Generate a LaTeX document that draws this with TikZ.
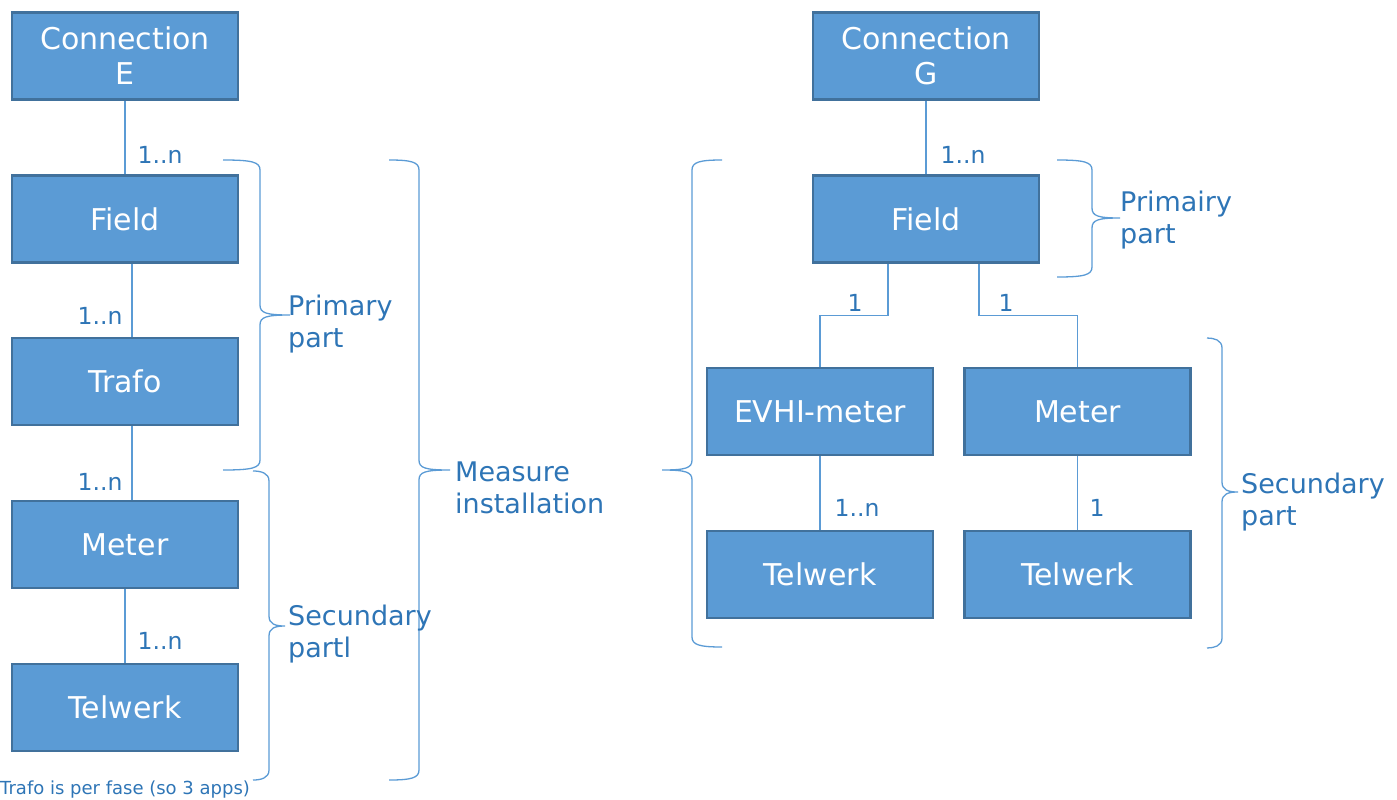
\documentclass[tikz,border=0pt]{standalone}
\usepackage{fontspec}
\setmainfont{DejaVu Sans}
\definecolor{boxfill}{HTML}{5B9BD5}
\definecolor{boxline}{HTML}{41719C}
\definecolor{lbl}{HTML}{2E75B6}
\newcommand\BraceR[6]{%
  \draw[brc] (#1,#4) .. controls ({#2-8},#4) and (#2,{#4+2}) .. (#2,{#4+10})
    -- (#2,{#5-10}) .. controls (#2,{#5-2}) and ({#2+6},#5) .. (#3,#5)
    .. controls ({#2+6},#5) and (#2,{#5+2}) .. (#2,{#5+10})
    -- (#2,{#6-10}) .. controls (#2,{#6-2}) and ({#2-8},#6) .. (#1,#6);}
\newcommand\BraceL[6]{%
  \draw[brc] (#1,#4) .. controls ({#2+8},#4) and (#2,{#4+2}) .. (#2,{#4+10})
    -- (#2,{#5-10}) .. controls (#2,{#5-2}) and ({#2-6},#5) .. (#3,#5)
    .. controls ({#2-6},#5) and (#2,{#5+2}) .. (#2,{#5+10})
    -- (#2,{#6-10}) .. controls (#2,{#6-2}) and ({#2+8},#6) .. (#1,#6);}
\begin{document}
\begin{tikzpicture}[x=1pt,y=-1pt,
  ent/.style={draw=boxline,fill=boxfill,line width=2.5pt,minimum width=226pt,minimum height=87pt,
    inner sep=0pt,text=white,align=center,font=\fontsize{30}{35}\selectfont},
  conn/.style={draw=boxfill,line width=1.3pt},
  brc/.style={draw=boxfill,line width=1.3pt},
  mult/.style={text=lbl,inner sep=0pt,font=\fontsize{23.5}{26}\selectfont},
  part/.style={text=lbl,inner sep=0pt,align=left,anchor=west,font=\fontsize{27}{32.5}\selectfont}]
\useasboundingbox (0,0) rectangle (1397,800);
% left column
\node[ent] (connE) at (125,56) {Connection\\E};
\node[ent] (fieldE) at (125,219) {Field};
\node[ent] (trafo) at (125,381.5) {Trafo};
\node[ent] (meterE) at (125,544.5) {Meter};
\node[ent] (telE) at (125,707.5) {Telwerk};
\draw[conn] (connE.south) -- (fieldE.north);
\draw[conn] ([xshift=7pt]fieldE.south) -- ([xshift=7pt]trafo.north);
\draw[conn] ([xshift=7pt]trafo.south) -- ([xshift=7pt]meterE.north);
\draw[conn] (meterE.south) -- (telE.north);
\node[mult] (m1) at (160,155) {1..n};
\node[mult] (m2) at (100,316) {1..n};
\node[mult] (m3) at (100,482) {1..n};
\node[mult] (m4) at (160,641) {1..n};
% right column
\node[ent] (connG) at (926,56) {Connection\\G};
\node[ent] (fieldG) at (926,219) {Field};
\node[ent] (evhi) at (820,411.5) {EVHI-meter};
\node[ent] (meterG) at (1077.5,411.5) {Meter};
\node[ent] (telG1) at (820,574.5) {Telwerk};
\node[ent] (telG2) at (1077.5,574.5) {Telwerk};
\draw[conn] (connG.south) -- (fieldG.north);
\draw[conn] ([xshift=-38pt]fieldG.south) -- ++(0,52) -| (evhi.north);
\draw[conn] ([xshift=53pt]fieldG.south) -- ++(0,52) -| (meterG.north);
\draw[conn] (evhi.south) -- (telG1.north);
\draw[conn] (meterG.south) -- (telG2.north);
\node[mult] (m5) at (963,155) {1..n};
\node[mult] (m6) at (855,303) {1};
\node[mult] (m7) at (1006,303) {1};
\node[mult] (m8) at (857,508) {1..n};
\node[mult] (m9) at (1097,508) {1};
% braces
\BraceR{223}{260}{290}{160}{315}{470}
\BraceR{253}{269}{285}{471}{626}{780}
\BraceR{389}{419}{450}{160}{470}{780}
\BraceL{722}{692}{662}{160}{470}{647}
\BraceR{1057}{1092}{1120}{160}{218}{277}
\BraceR{1207}{1222}{1238}{338}{492}{648}
\node[part] (pp1) at (288,324) {Primary\\part};
\node[part] (sp1) at (288,634) {Secundary\\partl};
\node[part] (mi) at (455,488) {Measure\\installation};
\node[part] (pp2) at (1120,220) {Primairy\\part};
\node[part] (sp2) at (1241,502) {Secundary\\part};
\node[text=lbl,inner sep=0pt,anchor=west,font=\fontsize{18}{20}\selectfont] (note) at (0,790) {Trafo is per fase (so 3 apps)};
\end{tikzpicture}
\end{document}
